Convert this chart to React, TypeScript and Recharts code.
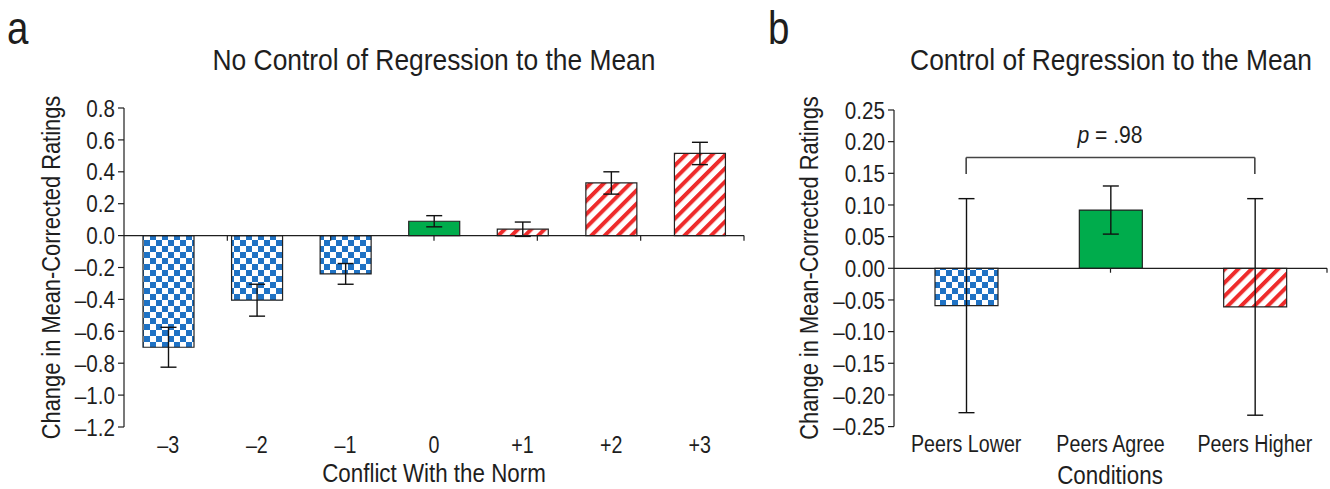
import React from 'react';
import { BarChart, Bar, XAxis, YAxis, Cell, ErrorBar, ReferenceLine } from 'recharts';

const FONT = '"Liberation Sans", Arial, Helvetica, sans-serif';
const INK = '#1e1e1e';
const BLUE = '#1f72c4';
const RED = '#ee2b2b';
const GREEN = '#00ac4c';

// Panel a data
const conflictCategories = ['\u20133', '\u20132', '\u20131', '0', '+1', '+2', '+3'];
const conflictMeans = [-0.7, -0.405, -0.24, 0.09, 0.04, 0.33, 0.515];
const conflictErrors = [0.125, 0.1, 0.065, 0.035, 0.045, 0.07, 0.07];
const conflictTicks = [-1.2, -1.0, -0.8, -0.6, -0.4, -0.2, 0, 0.2, 0.4, 0.6, 0.8];

// Panel b data
const conditionCategories = ['Peers Lower', 'Peers Agree', 'Peers Higher'];
const conditionMeans = [-0.059, 0.092, -0.061];
const conditionErrors = [0.169, 0.038, 0.171];
const conditionTicks = [-0.25, -0.2, -0.15, -0.1, -0.05, 0, 0.05, 0.1, 0.15, 0.2, 0.25];
const bracketBottom = 0.149;
const bracketTop = 0.175;
const pValueText = ' = .98';

const conflictData = conflictCategories.map((cat, i) => ({ cat, mean: conflictMeans[i], err: conflictErrors[i] }));
const conditionData = conditionCategories.map((cat, i) => ({ cat, mean: conditionMeans[i], err: conditionErrors[i] }));

const fillForConflict = (cat: string) =>
  cat.startsWith('\u2013') ? 'url(#checker)' : cat === '0' ? GREEN : 'url(#stripes)';
const fillForCondition = (cat: string) =>
  cat.includes('Lower') ? 'url(#checker)' : cat.includes('Agree') ? GREEN : 'url(#stripes)';

const fmt = (digits: number) => (v: number) =>
  (v < -1e-9 ? '\u2013' : '') + Math.abs(v).toFixed(digits);

type NTextProps = {
  x: number;
  y: number;
  size: number;
  sx: number;
  anchor?: 'start' | 'middle' | 'end';
  rotate?: number;
  dy?: string;
  children: React.ReactNode;
};

const NText = ({ x, y, size, sx, anchor = 'middle', rotate = 0, dy, children }: NTextProps) => (
  <text
    transform={`translate(${x} ${y}) rotate(${rotate}) scale(${sx} 1)`}
    fontSize={size}
    textAnchor={anchor}
    fontFamily={FONT}
    fill={INK}
    dy={dy}
  >
    {children}
  </text>
);

const makeXTick = (dy: number) => (props: any) => {
  const { x, y, payload } = props;
  return (
    <NText x={x} y={y + dy} size={24} sx={0.82}>
      {payload.value}
    </NText>
  );
};

const makeYTick = (digits: number) => (props: any) => {
  const { x, y, payload } = props;
  return (
    <NText x={x} y={y} size={24} sx={0.86} anchor="end" dy="0.36em">
      {fmt(digits)(payload.value)}
    </NText>
  );
};

const boundaryPositions = (n: number) => Array.from({ length: n }, (_, i) => i + 1);

export default function App() {
  return (
    <div style={{ position: 'absolute', left: 0, top: 0, width: 1330, height: 489, background: '#fff', fontFamily: FONT }}>
      <svg width={0} height={0} style={{ position: 'absolute' }}>
        <defs>
          <pattern id="checker" patternUnits="userSpaceOnUse" width={12} height={12}>
            <rect width={12} height={12} fill="#fff" />
            <rect x={0} y={0} width={6} height={6} fill={BLUE} />
            <rect x={6} y={6} width={6} height={6} fill={BLUE} />
          </pattern>
          <pattern id="stripes" patternUnits="userSpaceOnUse" width={9.4} height={9.4} patternTransform="rotate(45)">
            <rect width={9.4} height={9.4} fill="#fff" />
            <rect width={4} height={9.4} fill={RED} />
          </pattern>
        </defs>
      </svg>

      <div style={{ position: 'absolute', left: 0, top: 0 }}>
        <BarChart width={760} height={489} data={conflictData} margin={{ top: 108, right: 16, bottom: 32, left: 64 }} barSize={51}>
          <XAxis dataKey="cat" axisLine={false} tickLine={false} tickSize={0} tickMargin={0} height={30} interval={0} tick={makeXTick(26)} />
          <XAxis xAxisId="n" type="number" domain={[0, conflictCategories.length]} hide allowDataOverflow />
          <YAxis
            type="number"
            domain={[-1.2, 0.8]}
            ticks={conflictTicks}
            interval={0}
            width={60}
            tickSize={6}
            tickMargin={3}
            tick={makeYTick(1)}
            axisLine={{ stroke: INK, strokeWidth: 1.2 }}
            tickLine={{ stroke: INK, strokeWidth: 1.2 }}
            allowDataOverflow
          />
          <Bar dataKey="mean" isAnimationActive={false} stroke="#222" strokeWidth={1.2}>
            {conflictData.map((d) => (
              <Cell key={d.cat} fill={fillForConflict(d.cat)} />
            ))}
            <ErrorBar dataKey="err" width={8} stroke="#111" strokeWidth={1.4} />
          </Bar>
          <ReferenceLine y={0} stroke={INK} strokeWidth={1.3} />
          {boundaryPositions(conflictCategories.length).map((p) => (
            <ReferenceLine
              key={p}
              xAxisId="n"
              segment={[{ x: p, y: 0 }, { x: p, y: -0.032 }]}
              stroke={INK}
              strokeWidth={1.2}
            />
          ))}
        </BarChart>
      </div>

      <div style={{ position: 'absolute', left: 760, top: 0 }}>
        <BarChart width={570} height={489} data={conditionData} margin={{ top: 110, right: 3, bottom: 32.4, left: 64 }} barSize={63}>
          <XAxis dataKey="cat" axisLine={false} tickLine={false} tickSize={0} tickMargin={0} height={30} interval={0} tick={makeXTick(25)} />
          <XAxis xAxisId="n" type="number" domain={[0, conditionCategories.length]} hide allowDataOverflow />
          <YAxis
            type="number"
            domain={[-0.25, 0.25]}
            ticks={conditionTicks}
            interval={0}
            width={70}
            tickSize={6}
            tickMargin={3}
            tick={makeYTick(2)}
            axisLine={{ stroke: INK, strokeWidth: 1.2 }}
            tickLine={{ stroke: INK, strokeWidth: 1.2 }}
            allowDataOverflow
          />
          <Bar dataKey="mean" isAnimationActive={false} stroke="#222" strokeWidth={1.2}>
            {conditionData.map((d) => (
              <Cell key={d.cat} fill={fillForCondition(d.cat)} />
            ))}
            <ErrorBar dataKey="err" width={8} stroke="#111" strokeWidth={1.4} />
          </Bar>
          <ReferenceLine y={0} stroke={INK} strokeWidth={1.3} />
          {boundaryPositions(conditionCategories.length).map((p) => (
            <ReferenceLine
              key={p}
              xAxisId="n"
              segment={[{ x: p, y: 0 }, { x: p, y: -0.007 }]}
              stroke={INK}
              strokeWidth={1.2}
            />
          ))}
          <ReferenceLine
            segment={[{ x: conditionCategories[0], y: bracketTop }, { x: conditionCategories[2], y: bracketTop }]}
            stroke="#444"
            strokeWidth={1.6}
          />
          <ReferenceLine
            segment={[{ x: conditionCategories[0], y: bracketBottom }, { x: conditionCategories[0], y: bracketTop }]}
            stroke="#444"
            strokeWidth={1.6}
          />
          <ReferenceLine
            segment={[{ x: conditionCategories[2], y: bracketBottom }, { x: conditionCategories[2], y: bracketTop }]}
            stroke="#444"
            strokeWidth={1.6}
          />
        </BarChart>
      </div>

      <svg width={1330} height={489} style={{ position: 'absolute', left: 0, top: 0, pointerEvents: 'none' }}>
        <NText x={7} y={43.5} size={47} sx={0.82} anchor="start">a</NText>
        <NText x={768} y={43.5} size={47} sx={0.82} anchor="start">b</NText>
        <NText x={434} y={70} size={29} sx={0.91}>No Control of Regression to the Mean</NText>
        <NText x={1111} y={70} size={29} sx={0.91}>Control of Regression to the Mean</NText>
        <NText x={434} y={482} size={26} sx={0.86}>Conflict With the Norm</NText>
        <NText x={1110} y={484} size={26} sx={0.86}>Conditions</NText>
        <NText x={60} y={267.5} size={26} sx={0.84} rotate={-90}>Change in Mean-Corrected Ratings</NText>
        <NText x={818} y={268} size={26} sx={0.84} rotate={-90}>Change in Mean-Corrected Ratings</NText>
        <NText x={1110} y={143} size={24} sx={0.88}>
          <tspan fontStyle="italic">p</tspan>
          {pValueText}
        </NText>
      </svg>
    </div>
  );
}
